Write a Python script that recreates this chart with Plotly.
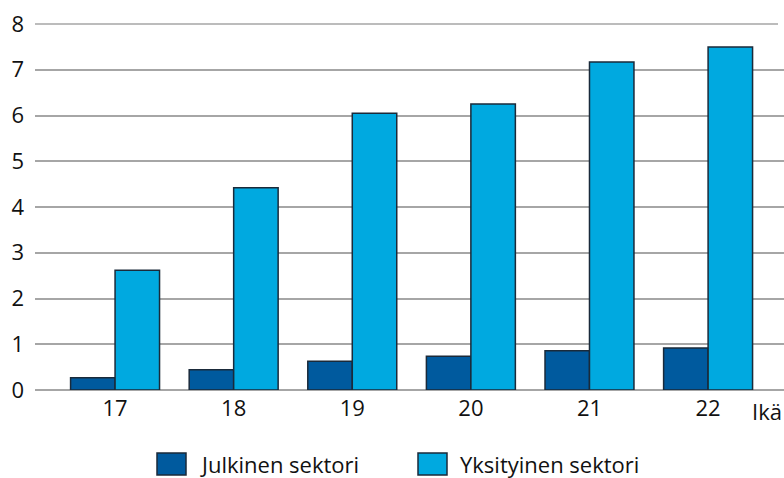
import plotly.graph_objects as go

ages = ["17", "18", "19", "20", "21", "22"]
julkinen = [0.27, 0.44, 0.63, 0.74, 0.86, 0.92]
yksityinen = [2.62, 4.42, 6.05, 6.25, 7.17, 7.50]
y_ticks = [0, 1, 2, 3, 4, 5, 6, 7, 8]
series_names = ["Julkinen sektori", "Yksityinen sektori"]
colors = ["#005a9e", "#00a9e0"]

font = "Open Sans, sans-serif"
FS = 22
W, H = 784, 478
L, R, T, B = 35, 0, 24, 88
GRID = "#a6a6a6"

fig = go.Figure()
for name, vals, col in zip(series_names, [julkinen, yksityinen], colors):
    fig.add_trace(go.Bar(x=ages, y=vals, name=name, showlegend=False,
                         marker=dict(color=col, line=dict(color="#1a2a3a", width=1.5))))

fig.update_layout(
    width=W, height=H,
    margin=dict(l=L, r=R, t=T, b=B, autoexpand=False),
    plot_bgcolor="white", paper_bgcolor="white",
    barmode="group", bargap=0.25, bargroupgap=0,
    font=dict(family=font, size=FS, color="#111111"),
    showlegend=False,
    xaxis=dict(type="category", range=[-0.675, 5.64], showgrid=False, showline=False,
               ticks="", tickfont=dict(size=FS), ticklabelstandoff=3),
    yaxis=dict(range=[0, 8], tickvals=y_ticks, showgrid=True, gridcolor=GRID,
               gridwidth=1.5, zeroline=True, zerolinecolor=GRID, zerolinewidth=1.5,
               showline=False, ticks="", tickfont=dict(size=FS), ticklabelstandoff=10),
)

pw, ph = W - L - R, H - T - B
def px_x(p):
    return (p - L) / pw
def px_y(p):
    return (H - B - p) / ph

# top gridline at the range edge (not drawn by plotly)
fig.add_shape(type="line", xref="paper", yref="paper", x0=0, x1=px_x(778),
              y0=1, y1=1, line=dict(color=GRID, width=1.5), layer="below")

# custom legend (larger swatches, as in the reference)
legend_items = [(157, 198), (418, 458)]
for (sx, tx), name, col in zip(legend_items, series_names, colors):
    fig.add_shape(type="rect", xref="paper", yref="paper",
                  x0=px_x(sx), x1=px_x(sx + 29), y0=px_y(475), y1=px_y(453),
                  fillcolor=col, line=dict(color="#1a2a3a", width=1.5))
    fig.add_annotation(text=name, xref="paper", yref="paper", x=px_x(tx), y=px_y(464),
                       xanchor="left", yanchor="middle", showarrow=False,
                       font=dict(size=FS))

fig.add_annotation(text="Ikä", xref="paper", yref="paper", x=1.0, y=px_y(411),
                   xanchor="right", yanchor="middle", showarrow=False, font=dict(size=FS))

fig.write_html("out.html", config={"displayModeBar": False},
               post_script="document.body.style.margin='0';")
